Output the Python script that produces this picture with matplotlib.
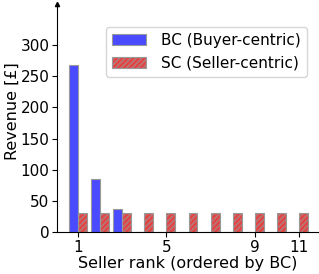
import matplotlib
matplotlib.use("Agg")
import matplotlib.pyplot as plt
import numpy as np

ranks = np.arange(1, 12)
bc_values = [268, 85, 37, 0, 0, 0, 0, 0, 0, 0, 0]
sc_values = [30, 30, 30, 30, 30, 30, 30, 30, 30, 30, 30]
xticks = [1, 5, 9, 11]

plt.rcParams['hatch.color'] = '#8b1a1a'
plt.rcParams['hatch.linewidth'] = 0.6
fig = plt.figure(figsize=(3.19, 2.74), dpi=100)
ax = fig.add_axes([57/319, 42/274, 262/319, 228/274])
w = 0.4
ax.bar(ranks - w/2, bc_values, width=w, color='#4a4aff', edgecolor='#999999', linewidth=0.8,
       label='BC (Buyer-centric)')
ax.bar(ranks + w/2, sc_values, width=w, color='#e04848', edgecolor='#999999', linewidth=0.8,
       hatch='//////', label='SC (Seller-centric)')
ax.set_xlim(0.05, 11.9)
ax.set_ylim(0, 366)
ax.set_xticks(xticks)
ax.set_yticks([0, 50, 100, 150, 200, 250, 300])
ax.spines['top'].set_visible(False)
ax.spines['right'].set_visible(False)
ax.tick_params(labelsize=11, pad=2)
ax.plot(0, 1, '^k', transform=ax.transAxes, clip_on=False, markersize=3)
ax.set_xlabel('Seller rank (ordered by BC)', fontsize=11.5, labelpad=1)
ax.set_ylabel('Revenue [£]', fontsize=11.5)
ax.yaxis.set_label_coords(-0.142, 0.53)
ax.legend(loc='upper right', fontsize=11, bbox_to_anchor=(307/319, 1 - 27/274),
          bbox_transform=fig.transFigure, borderaxespad=0,
          handlelength=2.2, handletextpad=1.0)
fig.savefig('out.png', dpi=100)
